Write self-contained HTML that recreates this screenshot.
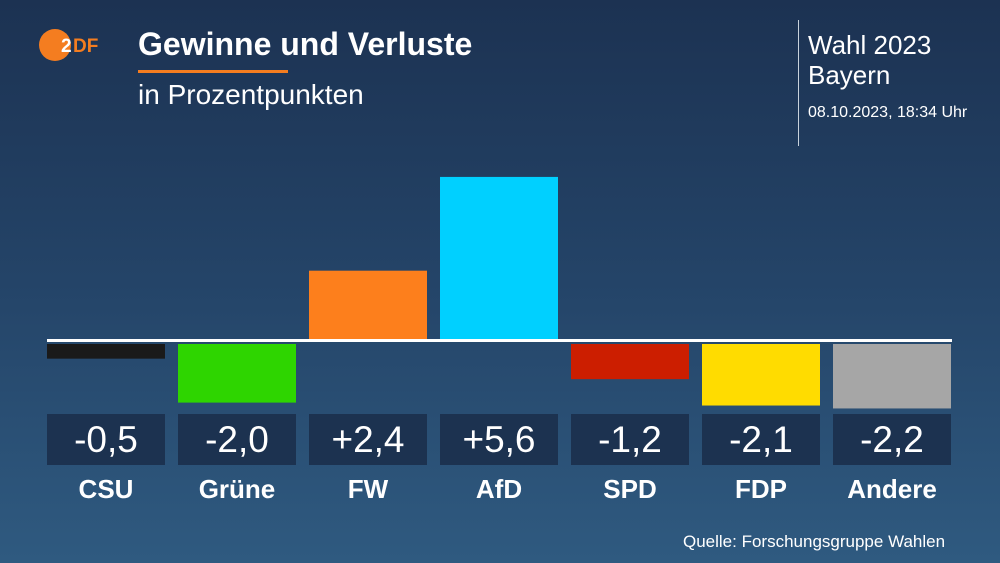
<!DOCTYPE html>
<html><head><meta charset="utf-8"><style>
body{margin:0;width:1000px;height:563px;overflow:hidden;font-family:"Liberation Sans",sans-serif;}
#bg{position:absolute;left:0;top:0;width:1000px;height:563px;background:linear-gradient(180deg,#1c3252 0%,#244468 50%,#2f5a80 100%);}
.t{position:absolute;color:#fff;white-space:nowrap;}
</style></head><body>
<div id="bg">
<svg width="80" height="40" style="position:absolute;left:36px;top:26px">
<circle cx="19" cy="19" r="16" fill="#f47d20"/>
<text x="25" y="26" font-family="Liberation Sans" font-weight="bold" font-size="19" fill="#fff">2</text>
<text x="37" y="26" font-family="Liberation Sans" font-weight="bold" font-size="19" fill="#f47d20">DF</text>
</svg>
<div class="t" style="left:138px;top:26px;font-size:32px;font-weight:bold">Gewinne und Verluste</div>
<div style="position:absolute;left:138px;top:70px;width:150px;height:3px;background:#f47d20"></div>
<div class="t" style="left:138px;top:79px;font-size:28px">in Prozentpunkten</div>
<div style="position:absolute;left:798px;top:20px;width:1px;height:126px;background:#c8d2dc"></div>
<div class="t" style="left:808px;top:30px;font-size:26px;line-height:30px">Wahl 2023<br>Bayern</div>
<div class="t" style="left:808px;top:104px;font-size:16px">08.10.2023, 18:34 Uhr</div>
<div class="t" style="left:683px;top:532px;font-size:17px">Quelle: Forschungsgruppe Wahlen</div>
<svg id="chart" width="1000" height="563" style="position:absolute;left:0;top:0"></svg>
</div>
<script>
const parties=["CSU","Grüne","FW","AfD","SPD","FDP","Andere"];
const changes=[-0.5,-2.0,2.4,5.6,-1.2,-2.1,-2.2];
const colors=["#1a1a1a","#2ed500","#fd7f1c","#00d0ff","#cc1e00","#ffdc00","#a6a6a6"];
const NS="http://www.w3.org/2000/svg";
const svg=document.getElementById("chart");
const baseY=341,scale=29.3,x0=47,pitch=131,bw=118;
function xPos(i){return x0+i*pitch;}
function yPos(v){return v>=0?baseY-v*scale:baseY+3;}
function fmt(v){return (v>0?"+":"")+v.toFixed(1).replace(".",",");}
function mk(tag,a){const e=document.createElementNS(NS,tag);for(const k in a)e.setAttribute(k,a[k]);svg.appendChild(e);return e;}
changes.forEach((v,i)=>{
  const x=xPos(i),h=Math.abs(v)*scale;
  const r=mk("rect",{x:x,y:yPos(v),width:bw,height:h,fill:colors[i]});
  
  
  const b=mk("rect",{x:x,y:414,width:bw,height:51,fill:"#1c3250"});
  
  
  const t=mk("text",{x:x+bw/2,y:452,"text-anchor":"middle","font-size":37,fill:"#fff","font-family":"Liberation Sans"});
  t.textContent=fmt(v);
  
  
  const l=mk("text",{x:x+bw/2,y:498,"text-anchor":"middle","font-size":26,"font-weight":600,fill:"#fff","font-family":"Liberation Sans"});
  l.textContent=parties[i];
  
  
});
const ln=mk("rect",{x:47,y:339,width:905,height:3,fill:"#fff"});


</script>
</body></html>
